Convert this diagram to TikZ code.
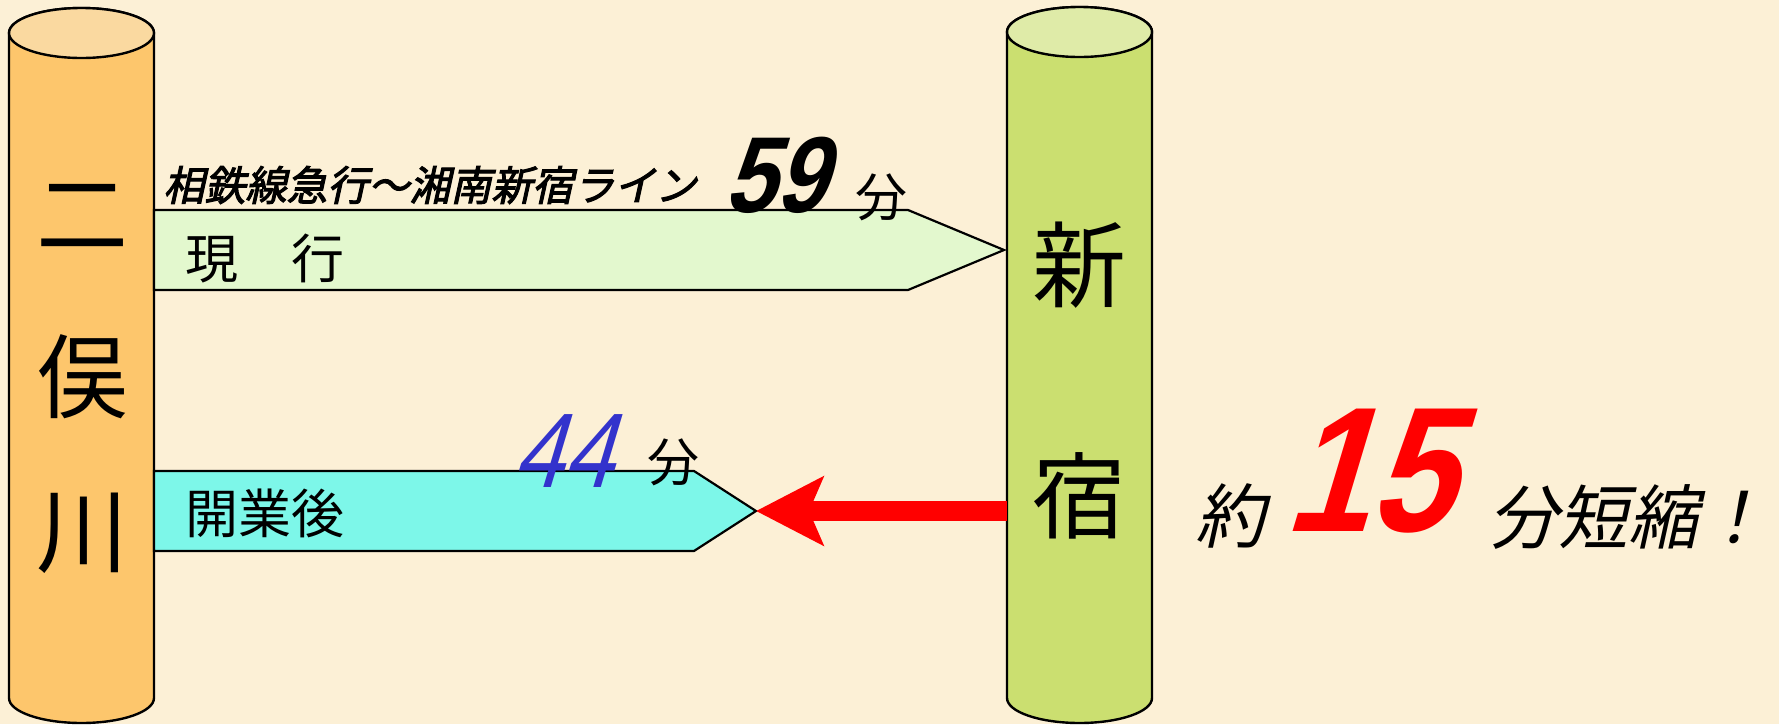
\documentclass[tikz,border=0pt]{standalone}
\usepackage{fontspec}
\usetikzlibrary{arrows.meta}
\setmainfont{Noto Sans CJK JP}
\newfontfamily\jpit[FakeSlant=0.22]{Noto Sans CJK JP}
\newfontfamily\jpitb[FakeSlant=0.22,FakeBold=2.5]{Noto Sans CJK JP}
\newfontfamily\numbold[UprightFont=* Bold, FakeSlant=0.3, FakeStretch=0.85]{Liberation Sans}
\newfontfamily\numreg[FakeSlant=0.3, FakeStretch=0.85]{Liberation Sans}
\newcommand\setfs[1]{\fontsize{#1}{#1}\selectfont}
\definecolor{bgc}{RGB}{252,240,214}
\definecolor{orgbody}{RGB}{253,198,108}
\definecolor{orgtop}{RGB}{250,217,160}
\definecolor{grnbody}{RGB}{203,223,112}
\definecolor{grntop}{RGB}{223,235,168}
\definecolor{nowfill}{RGB}{227,248,206}
\definecolor{afterfill}{RGB}{125,247,233}
\definecolor{blue44}{RGB}{51,51,204}
\definecolor{red15}{RGB}{255,0,0}
\tikzset{
  outl/.style={draw=black, line width=1.2pt},
  bigchar/.style={inner sep=0pt, font=\setfs{46pt}},
  lbl/.style={inner sep=0pt, font=\setfs{26.5pt}},
  fen/.style={inner sep=0pt, font=\setfs{26pt}},
}
\begin{document}
\begin{tikzpicture}[x=0.5pt,y=-0.5pt]
\useasboundingbox (0,0) rectangle (1779,724);
\fill[bgc] (0,0) rectangle (1779,724);
% left cylinder
\path[outl, fill=orgbody] (9,33) -- (9,698) arc[start angle=180,end angle=360,x radius=36.25pt,y radius=12.5pt] -- (154,33) arc[start angle=0,end angle=180,x radius=36.25pt,y radius=12.5pt] -- cycle;
\path[outl, fill=orgtop] (81.5,33) ellipse[x radius=36.25pt, y radius=12.5pt];
% right cylinder
\path[outl, fill=grnbody] (1007,32) -- (1007,698) arc[start angle=180,end angle=360,x radius=36.25pt,y radius=12.5pt] -- (1152,32) arc[start angle=0,end angle=180,x radius=36.25pt,y radius=12.5pt] -- cycle;
\path[outl, fill=grntop] (1079.5,32) ellipse[x radius=36.25pt, y radius=12.5pt];
% arrows
\coordinate (nowTip) at (1004,250);
\coordinate (afterTip) at (756,511);
\coordinate (shinL) at (1007,511);
\path[draw=black, line width=1.1pt, fill=nowfill] (154,210) -- (908,210) -- (nowTip) -- (908,290) -- (154,290) -- cycle;
\path[draw=black, line width=1.1pt, fill=afterfill] (154,471) -- (694,471) -- (afterTip) -- (694,551) -- (154,551) -- cycle;
\draw[red15, line width=10pt, -{Stealth[length=33.5pt, width=34pt, inset=7pt]}] (shinL) -- (afterTip);
% station names
\node[bigchar] (ni) at (82,216) {二};
\node[bigchar] (mata) at (82,377) {俣};
\node[bigchar] (kawa) at (82,533) {川};
\node[bigchar, font=\setfs{47pt}] (shin) at (1079,265) {新};
\node[bigchar, font=\setfs{47pt}] (juku) at (1079,496) {宿};
% upper labels
\node[inner sep=0pt, anchor=west, font=\jpitb\setfs{20.5pt}] (route) at (163,185) {相鉄線急行～湘南新宿ライン};
\node[inner sep=0pt, font=\numbold\setfs{54pt}] (n59) at (775,175) {59};
\node[fen] (f59) at (881,197) {分};
\node[lbl, anchor=west] (now) at (185,258) {現　行};
% lower labels
\node[inner sep=0pt, anchor=west] (after) at (185,513) {\setfs{26.5pt}開業後};
\node[inner sep=0pt, text=blue44, font=\numreg\setfs{53pt}] (n44) at (563,451) {44};
\node[fen] (f44) at (673,462) {分};
% saving
\node[inner sep=0pt, font=\jpit\setfs{35pt}] (yaku) at (1230,516) {約};
\node[inner sep=0pt, text=red15, font=\numbold\setfs{89pt}] (n15) at (1368,471) {15};
\node[inner sep=0pt, anchor=west, font=\jpit\setfs{35pt}] (short) at (1488,517) {分短縮！};
\end{tikzpicture}
\end{document}
